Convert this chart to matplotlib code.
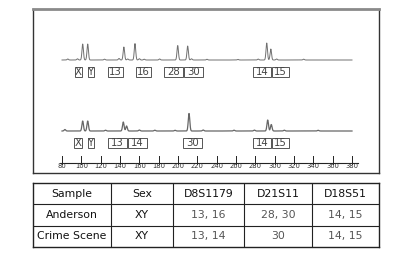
import numpy as np
import matplotlib
matplotlib.use("Agg")
import matplotlib.pyplot as plt
from matplotlib.patches import Rectangle

# ---------------- data ----------------
ticks_bp = list(range(80, 381, 20))

# trace 1 (Anderson): peak positions (bp) and heights (px-like units)
t1_peak_bp = [101.4, 106.6, 144.0, 155.5, 199.7, 210.0, 291.8, 296.0,
              86.0, 96.0, 124.0, 139.0, 148.0, 160.0, 165.0, 181.0, 214.0, 230.0, 262.0, 283.0, 302.0, 330.0]
t1_peak_h = [16.0, 16.0, 13.0, 16.5, 14.5, 14.0, 17.0, 11.0,
             1.0, 1.2, 0.8, 1.5, 1.0, 1.3, 0.8, 1.0, 1.2, 0.7, 0.6, 0.9, 1.0, 0.8]
# trace 2 (Crime Scene)
t2_peak_bp = [101.4, 106.6, 143.4, 146.8, 211.4, 292.8, 296.5,
              83.0, 125.0, 160.0, 176.0, 197.0, 226.0, 258.0, 279.0, 310.0, 345.0]
t2_peak_h = [10.0, 10.0, 9.0, 5.0, 17.5, 11.0, 6.5,
             1.5, 0.8, 1.0, 0.8, 0.7, 1.0, 0.8, 0.9, 0.8, 0.7]

t1_labels = ["X", "Y", "13", "16", "28", "30", "14", "15"]
t1_box_lo = [93.4, 106.9, 127.6, 156.6, 185.5, 206.2, 277.6, 297.2]
t1_box_hi = [100.7, 113.1, 143.1, 172.1, 205.2, 225.9, 296.2, 314.8]
t2_labels = ["X", "Y", "13", "14", "30", "14", "15"]
t2_box_lo = [92.4, 106.9, 127.6, 148.3, 205.2, 277.6, 297.2]
t2_box_hi = [100.7, 113.1, 147.2, 167.9, 224.8, 296.2, 314.8]

table_header = ["Sample", "Sex", "D8S1179", "D21S11", "D18S51"]
table_rows = [["Anderson", "XY", "13, 16", "28, 30", "14, 15"],
              ["Crime Scene", "XY", "13, 14", "30", "14, 15"]]
col_widths = [78, 62, 71, 68, 67]

# ---------------- figure ----------------
W, H = 403, 259
fig = plt.figure(figsize=(W / 100, H / 100), dpi=100)
fig.patch.set_facecolor("white")

def px_rect(x0, y0, x1, y1):
    return [x0 / W, 1 - y1 / H, (x1 - x0) / W, (y1 - y0) / H]

# electropherogram frame axes: x in bp, y in pixel rows (inverted)
fx0, fy0, fx1, fy1 = 33, 9, 379, 173
ax = fig.add_axes(px_rect(fx0, fy0, fx1, fy1))
bp_per_px = 20 / 19.33
xmin = 80 - (62 - fx0) * bp_per_px
xmax = 380 + (fx1 - 352) * bp_per_px
ax.set_xlim(xmin, xmax)
ax.set_ylim(fy1, fy0)
ax.set_xticks([]); ax.set_yticks([])
for s in ["left", "right", "bottom"]:
    ax.spines[s].set_color("#333333")
    ax.spines[s].set_linewidth(1.0)
ax.spines["top"].set_color("#8a8a8a")
ax.spines["top"].set_linewidth(2.0)

x = np.arange(80, 380.01, 0.2)

def trace(pos, hts, sig):
    y = np.zeros_like(x)
    for p, h in zip(pos, hts):
        y += h * np.exp(-0.5 * ((x - p) / sig) ** 2)
    return y

y1 = trace(t1_peak_bp, t1_peak_h, 0.75)
y2 = trace(t2_peak_bp, t2_peak_h, 0.8)
ax.plot(x, 60 - y1, color="#707070", lw=0.7)
ax.plot(x, 131 - y2, color="#666666", lw=0.9)

def boxes(lo, hi, labels, ytop, ybot):
    for a, b, t in zip(lo, hi, labels):
        ax.add_patch(Rectangle((a, ytop), b - a, ybot - ytop, fill=False,
                               edgecolor="#555555", lw=0.7))
        ax.text((a + b) / 2, (ytop + ybot) / 2 + 0.4, t, ha="center", va="center",
                fontsize=7.3, color="#444444")

boxes(t1_box_lo, t1_box_hi, t1_labels, 67, 77)
boxes(t2_box_lo, t2_box_hi, t2_labels, 138, 148)

# size axis
ax.plot([78, 386], [163, 163], color="#222222", lw=0.8)
for t in ticks_bp:
    ax.plot([t, t], [164, 155.5], color="#222222", lw=0.7)
    ax.text(t, 166.3, str(t), ha="center", va="center", fontsize=5.4,
            color="#333333", fontstretch="condensed")

# ---------------- table ----------------
tx0, ty0, tx1, ty1 = 33, 183, 379, 247
tax = fig.add_axes(px_rect(tx0, ty0, tx1, ty1))
tax.set_xlim(0, sum(col_widths))
tax.set_ylim(3, 0)
tax.set_xticks([]); tax.set_yticks([])
for s in tax.spines.values():
    s.set_color("#222222"); s.set_linewidth(1.0)
edges = np.concatenate([[0], np.cumsum(col_widths)])
for e in edges[1:-1]:
    tax.plot([e, e], [0, 3], color="#222222", lw=0.8)
for r in [1, 2]:
    tax.plot([0, edges[-1]], [r, r], color="#222222", lw=0.8)

all_rows = [table_header] + table_rows
for ri, row in enumerate(all_rows):
    for ci, val in enumerate(row):
        cx = (edges[ci] + edges[ci + 1]) / 2
        color = "#111111" if (ri == 0 or ci < 2) else "#555555"
        txt = tax.text(cx, ri + 0.5, val, ha="center", va="center",
                       fontsize=7.8, color=color)
        clip = Rectangle((edges[ci], ri), col_widths[ci], 1, transform=tax.transData)
        txt.set_clip_path(clip)

fig.savefig("out.png", dpi=100, facecolor="white")
